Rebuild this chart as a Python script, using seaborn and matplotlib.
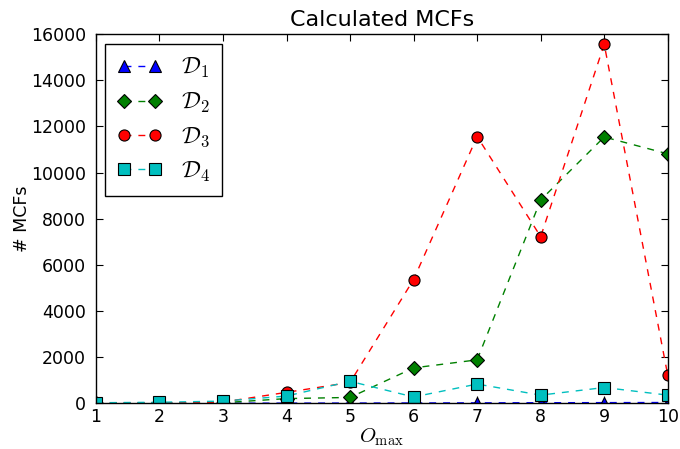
import matplotlib
matplotlib.use("Agg")
import matplotlib.pyplot as plt
import seaborn as sns
import pandas as pd

# values
omax = [1, 2, 3, 4, 5, 6, 7, 8, 9, 10]
d1 = [0, 0, 1, 3, 6, 10, 15, 20, 25, 30]
d2 = [0, 5, 20, 200, 250, 1530, 1880, 8810, 11540, 10810]
d3 = [0, 10, 50, 470, 900, 5360, 11560, 7220, 15560, 1210]
d4 = [20, 40, 90, 310, 950, 270, 830, 350, 680, 350]

series = [
    (r"$\mathcal{D}_1$", d1, "^", "b"),
    (r"$\mathcal{D}_2$", d2, "D", "g"),
    (r"$\mathcal{D}_3$", d3, "o", "r"),
    (r"$\mathcal{D}_4$", d4, "s", "c"),
]

sns.set_style("ticks", {"text.color": "black", "axes.labelcolor": "black",
                        "xtick.color": "black", "ytick.color": "black",
                        "axes.edgecolor": "black"})
plt.rcParams["font.family"] = ["DejaVu Sans"]
plt.rcParams["mathtext.fontset"] = "cm"
plt.rcParams["xtick.direction"] = "in"
plt.rcParams["ytick.direction"] = "in"

fig = plt.figure(figsize=(6.8, 4.49), dpi=100)
ax = fig.add_axes([0.141, 0.102, 0.841, 0.822])

for label, vals, mk, col in series:
    df = pd.DataFrame({"omax": omax, "n": vals})
    sns.lineplot(data=df, x="omax", y="n", ax=ax, color=col,
                 linestyle=(0, (5, 5)), linewidth=1, marker=mk,
                 markersize=8 if mk != "D" else 7.5,
                 markeredgecolor="black", markeredgewidth=0.8, label=label)

ax.set_xlim(1, 10)
ax.set_ylim(0, 16000)
ax.set_xticks(omax)
ax.set_yticks(range(0, 16001, 2000))
ax.tick_params(top=True, right=True, labelsize=12.5, length=5, width=0.8)
ax.tick_params(axis="y", pad=7)
for s in ax.spines.values():
    s.set_linewidth(1)

ax.set_title("Calculated MCFs", fontsize=16)
ax.set_xlabel(r"$O_{\max}$", fontsize=15, labelpad=0)
ax.set_ylabel("# MCFs", fontsize=12.5)
ax.yaxis.set_label_coords(-0.113, 0.5)

leg = ax.legend(loc="upper left", numpoints=2, fontsize=17, fancybox=False,
                framealpha=1, edgecolor="black", borderpad=0.5,
                handlelength=1.9, handletextpad=0.8, labelspacing=0.4,
                borderaxespad=0.4)
leg.get_frame().set_linewidth(1)

fig.savefig("out.png", dpi=100)
